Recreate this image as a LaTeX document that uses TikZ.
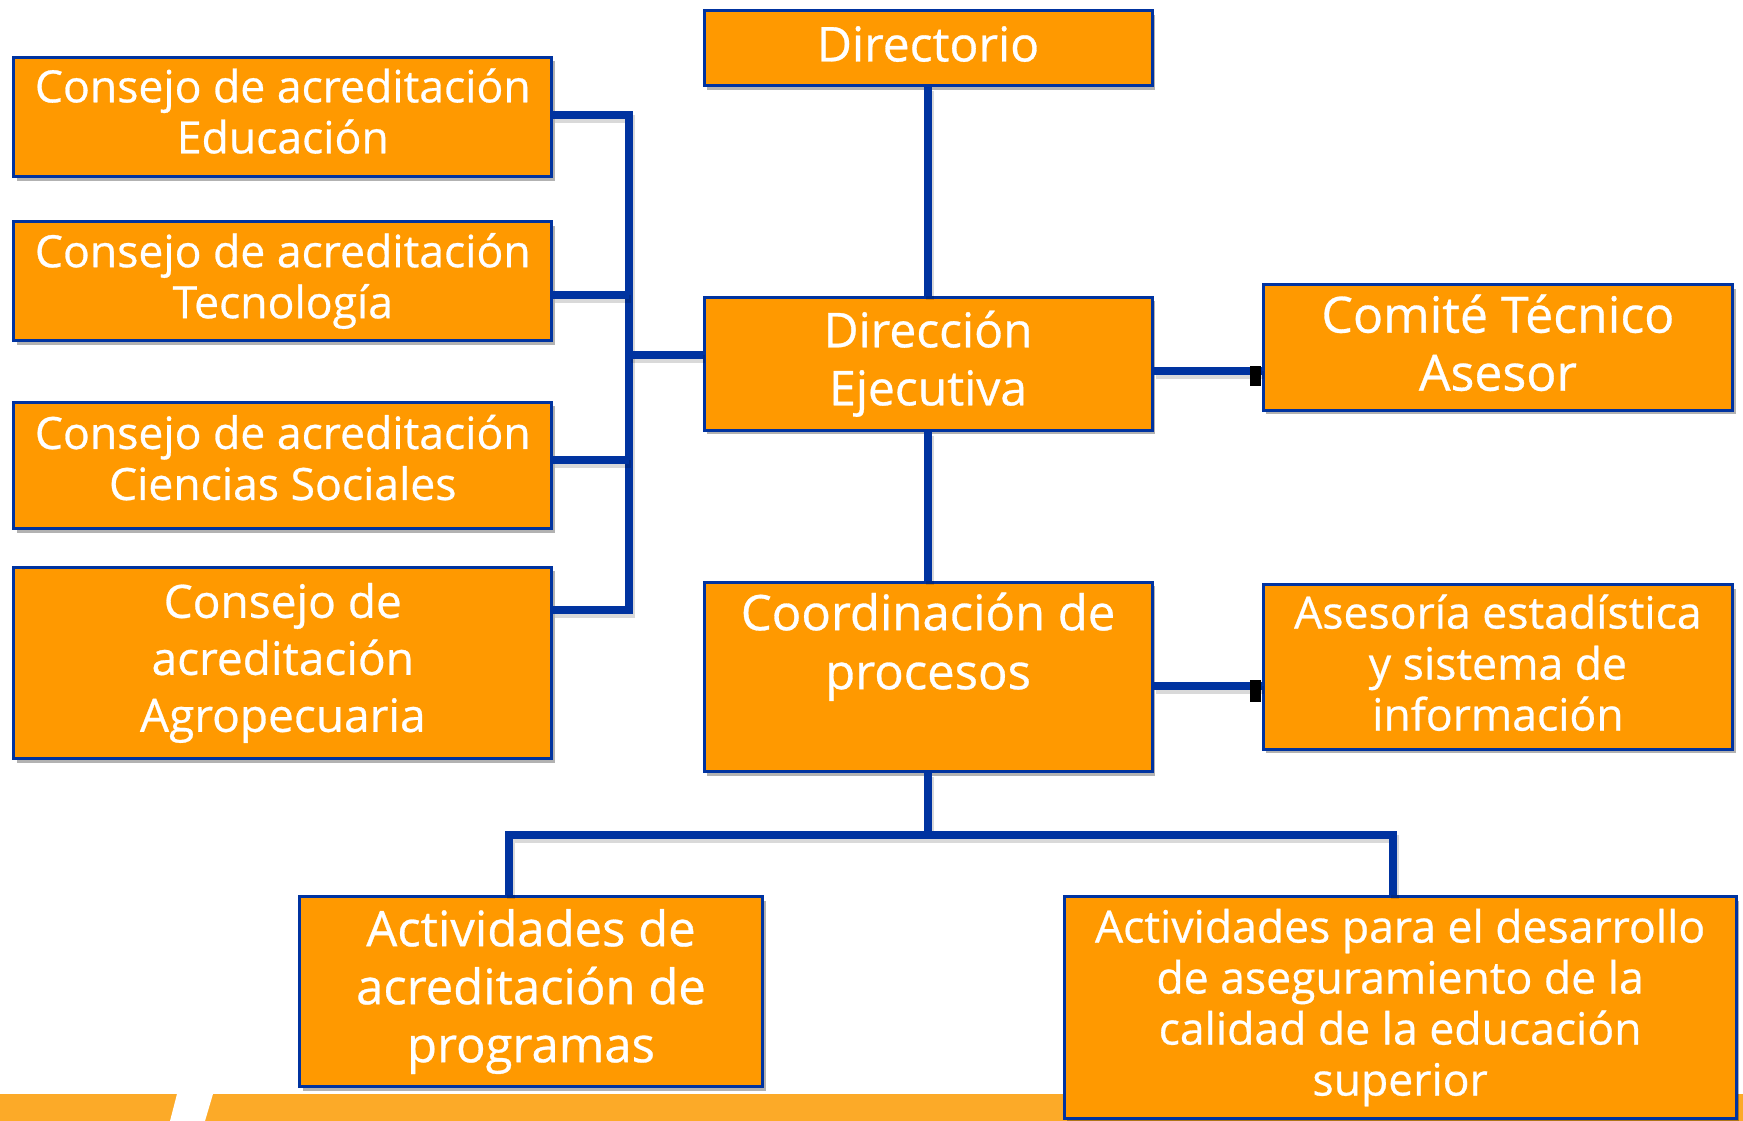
\documentclass[tikz,border=0pt]{standalone}
\usepackage{fontspec}
\setmainfont{Open Sans}[FakeBold=0.6]
\usetikzlibrary{shadows}
\definecolor{boxorange}{RGB}{255,153,0}
\definecolor{lineblue}{RGB}{0,51,160}
\definecolor{bandorange}{RGB}{252,170,40}
\begin{document}
\begin{tikzpicture}[x=1pt,y=-1pt,
  box/.style={draw=lineblue, line width=3pt, fill=boxorange, text=white, align=center, inner sep=0pt,
    drop shadow={shadow xshift=3pt,shadow yshift=-4pt,opacity=0.3,fill=black}},
  fbig/.style={font=\fontsize{48}{58}\selectfont},
  fsmall/.style={font=\fontsize{44.5}{51}\selectfont},
  conn/.style={draw=lineblue, line width=8pt,
    preaction={draw=black, draw opacity=0.15, line width=8pt, transform canvas={shift={(2pt,-4pt)}}}},
]
\useasboundingbox (0,0) rectangle (1743,1121);
\fill[white] (0,0) rectangle (1743,1121);
% bottom band
\fill[bandorange] (0,1094) rectangle (1743,1121);
\fill[white] (177,1094) -- (213,1094) -- (205,1121) -- (170,1121) -- cycle;

% helper coordinates
\coordinate (y1) at (0,115);
\coordinate (y2) at (0,295);
\coordinate (y3) at (0,460);
\coordinate (y4) at (0,610);
\coordinate (yd) at (0,355);
\coordinate (xb) at (629,0);
\coordinate (r1) at (0,371);
\coordinate (r2) at (0,686);
\coordinate (yb) at (0,835);
\coordinate (xl) at (509,0);
\coordinate (xr) at (1393,0);

% boxes
\node[box, fbig, text depth=9pt, minimum width=448pt, minimum height=75pt] (dirc) at (928.1,48.3) {Directorio};
\node[box, fsmall, text depth=12pt, minimum width=538pt, minimum height=119.5pt] (ce) at (282.8,116.8) {Consejo de acreditación\\Educación};
\node[box, fsmall, minimum width=538pt, minimum height=119pt] (ct) at (282.8,281) {Consejo de acreditación\\Tecnología};
\node[box, fsmall, text depth=16pt, minimum width=538pt, minimum height=126.3pt] (cs) at (282.8,465.4) {Consejo de acreditación\\Ciencias Sociales};
\node[box, font=\fontsize{46}{57}\selectfont, minimum width=538pt, minimum height=191.3pt] (ca) at (282.8,662.9) {Consejo de\\acreditación\\Agropecuaria};
\node[box, fbig, minimum width=448pt, minimum height=133pt] (de) at (928.1,363.7) {Dirección\\Ejecutiva};
\node[box, font=\fontsize{50}{58}\selectfont, text depth=10pt, minimum width=469.3pt, minimum height=125.4pt] (cta) at (1497.9,347.5) {Comité Técnico\\Asesor};
\node[box, font=\fontsize{49}{59}\selectfont, text depth=13pt, minimum width=448pt, minimum height=189.3pt] (cp) at (928.1,676.9) {Coordinación de\\procesos\\\mbox{}};
\node[box, fsmall, text depth=9pt, minimum width=469.3pt, minimum height=164.4pt] (ae) at (1497.9,667) {Asesoría estadística\\y sistema de\\información};
\node[box, font=\fontsize{49}{58}\selectfont, minimum width=463pt, minimum height=190pt] (aa) at (531,991.5) {Actividades de\\acreditación de\\programas};
\node[box, fsmall, minimum width=671.8pt, minimum height=222pt] (ad) at (1400.1,1007.5) {Actividades para el desarrollo\\de aseguramiento de la\\calidad de la educación\\superior};

% connectors
\draw[conn] (dirc.south) -- (de.north);
\draw[conn] (de.south) -- (cp.north);
\draw[conn] (ce.east |- y1) -- (xb |- y1) -- (xb |- y4) -- (ca.east |- y4);
\draw[conn] (ct.east |- y2) -- (xb |- y2);
\draw[conn] (cs.east |- y3) -- (xb |- y3);
\draw[conn] (xb |- yd) -- (de.west |- yd);
\draw[conn] (de.east |- r1) -- (cta.west |- r1);
\draw[conn] (cp.east |- r2) -- (ae.west |- r2);
\fill[black] (cta.west |- r1) ++(-12,-5) rectangle ++(11,20);
\fill[black] (ae.west |- r2) ++(-12,-6) rectangle ++(11,22);
\draw[conn] (cp.south) -- (cp.south |- yb);
\draw[conn] (aa.north -| xl) -- (xl |- yb) -- (xr |- yb) -- (ad.north -| xr);
\end{tikzpicture}
\end{document}
